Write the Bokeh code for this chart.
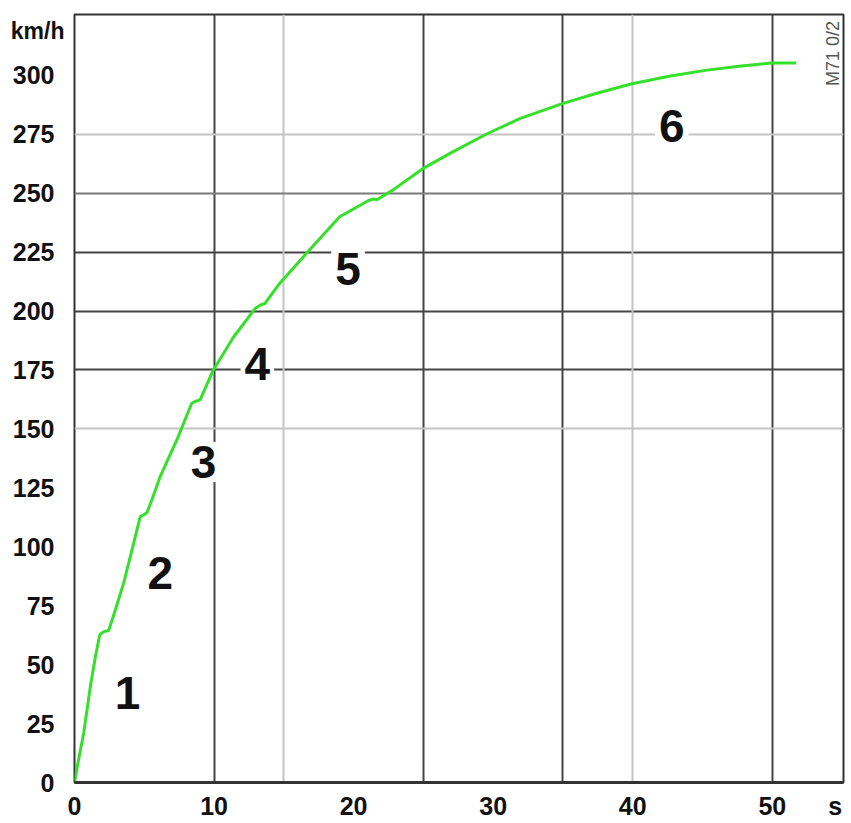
import math
from bokeh.plotting import figure
from bokeh.models import Range1d, FixedTicker, Grid, Label, LinearAxis
from bokeh.embed import file_html
from bokeh.resources import INLINE

# Acceleration curve (time in s, speed in km/h)
time_s = [0, 0.3, 0.66, 1.14, 1.5, 1.81, 2.1, 2.45, 2.93, 3.52, 4.12, 4.71, 4.95, 5.19,
          5.55, 6.14, 7.33, 8.4, 8.7, 9.0, 9.95, 11.4, 12.93, 13.3, 13.64, 14.7, 16.7,
          19.0, 21.1, 21.4, 21.7, 22.8, 24.95, 27.1, 29.5, 31.9, 34.95, 37.3, 39.95,
          42.6, 45.2, 47.6, 49.95, 51.7]
speed_kmh = [0, 10, 21, 40.8, 53.5, 62.7, 64, 64.5, 73.3, 84.6, 98.7, 112.8, 113.5, 114.5,
             120, 129.8, 145.3, 160.9, 161.8, 162.3, 175, 189, 201, 202.5, 203.2, 211.7, 225,
             240, 247, 247.5, 247.3, 251.3, 260.4, 267.5, 275, 281.6, 288, 292.2, 296.4,
             299.6, 302.1, 303.8, 305.2, 305.2]

# Gear labels
gear_text = ["1", "2", "3", "4", "5", "6"]
gear_x = [3.8, 6.15, 9.25, 13.1, 19.6, 42.8]
gear_y = [38.0, 89.0, 136.0, 177.5, 218.0, 278.5]

x_ticks = [0, 10, 20, 30, 40, 50]
y_ticks = [0, 25, 50, 75, 100, 125, 150, 175, 200, 225, 250, 275, 300]
x_unit_pos, x_unit_text = 54.5, "s"
y_unit_pos, y_unit_text = 319, "km/h"
x_grid_dark = [10, 25, 35, 50]
x_grid_light = [15, 40]
y_grid_dark = [175, 200, 225]
y_grid_mid = [250]
y_grid_light = [150, 275]

FONT = "Liberation Sans"

p = figure(width=845, height=822, output_backend="svg", toolbar_location=None,
           x_range=Range1d(0, 55.1), y_range=Range1d(0, 325.8),
           min_border_left=74, min_border_right=2, min_border_top=14, min_border_bottom=40)
p.background_fill_color = "white"
p.border_fill_color = "white"
p.outline_line_color = "#333333"
p.outline_line_width = 2

# grids
p.xgrid.ticker = FixedTicker(ticks=x_grid_dark)
p.xgrid.grid_line_color = "#444444"
p.xgrid.grid_line_width = 2
p.ygrid.ticker = FixedTicker(ticks=y_grid_dark)
p.ygrid.grid_line_color = "#444444"
p.ygrid.grid_line_width = 2
p.add_layout(Grid(dimension=0, ticker=FixedTicker(ticks=x_grid_light),
                  grid_line_color="#c4c4c4", grid_line_width=2))
p.add_layout(Grid(dimension=1, ticker=FixedTicker(ticks=y_grid_light),
                  grid_line_color="#c4c4c4", grid_line_width=2))
p.add_layout(Grid(dimension=1, ticker=FixedTicker(ticks=y_grid_mid),
                  grid_line_color="#7a7a7a", grid_line_width=2))

# axes
for ax in (p.xaxis[0], p.yaxis[0]):
    ax.major_tick_line_color = None
    ax.minor_tick_line_color = None
    ax.major_tick_out = 0
    ax.minor_tick_out = 0
    ax.major_label_text_font = FONT
    ax.major_label_text_font_style = "bold"
    ax.major_label_text_font_size = "25px"
    ax.major_label_text_color = "#111111"
p.xaxis[0].ticker = FixedTicker(ticks=x_ticks + [x_unit_pos])
p.xaxis[0].major_label_overrides = {x_unit_pos: x_unit_text}
p.yaxis[0].ticker = FixedTicker(ticks=y_ticks)
p.xaxis[0].axis_line_color = "#333333"
p.xaxis[0].axis_line_width = 3
p.yaxis[0].axis_line_color = None
p.xaxis[0].major_label_standoff = 9
p.yaxis[0].major_label_standoff = 20

# unit axis for km/h (stacked left, pulled inward)
unit_axis = LinearAxis(ticker=FixedTicker(ticks=[y_unit_pos]),
                       major_label_overrides={y_unit_pos: y_unit_text},
                       axis_line_color=None, major_tick_line_color=None,
                       minor_tick_line_color=None, major_tick_out=0, minor_tick_out=0,
                       major_label_standoff=-55, major_label_text_font=FONT,
                       major_label_text_font_style="bold", major_label_text_font_size="23px",
                       major_label_text_color="#111111")
p.add_layout(unit_axis, "left")

# curve
p.line(time_s, speed_kmh, line_color="#35e02a", line_width=3)

# gear numbers
for t, gx, gy in zip(gear_text, gear_x, gear_y):
    p.add_layout(Label(x=gx, y=gy, text=t, text_align="center", text_baseline="middle",
                       text_font=FONT, text_font_style="bold", text_font_size="46px",
                       text_color="#111111", background_fill_color="white",
                       padding=4))

p.add_layout(Label(x=54.35, y=309.3, text="M71 0/2", text_align="center", text_baseline="middle",
                   angle=math.pi / 2, text_font=FONT, text_font_size="18px",
                   text_color="#555555"))

open("out.html", "w").write(file_html(p, INLINE))
